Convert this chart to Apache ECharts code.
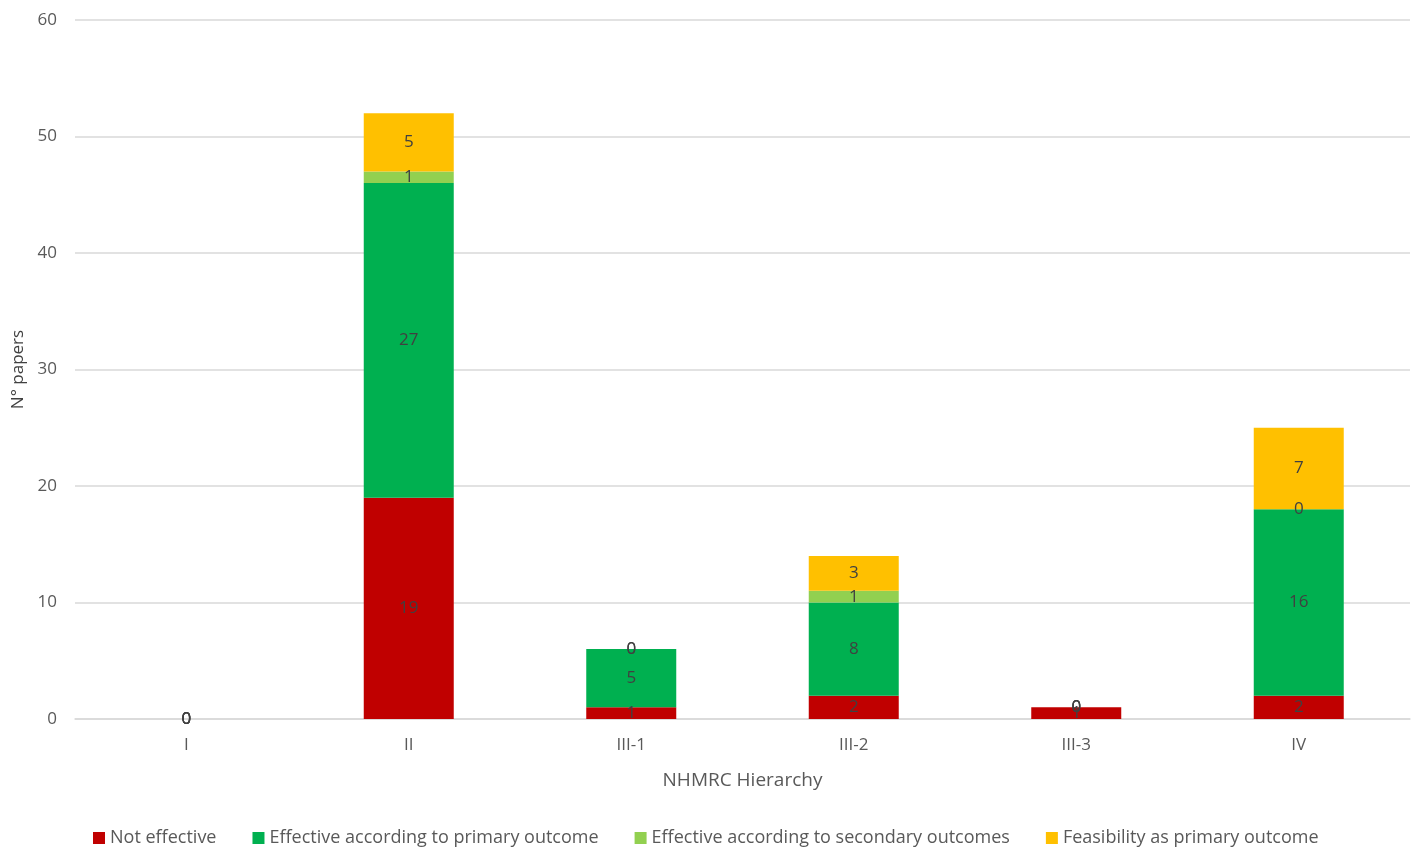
<!DOCTYPE html>
<html>
<head>
<meta charset="UTF-8">
<title>NHMRC Hierarchy</title>
<script src="https://cdn.jsdelivr.net/npm/echarts@6/dist/echarts.min.js"></script>
<style>
  body { margin: 0; background: #fff; }
  #chart { width: 1414px; height: 860px; }
</style>
</head>
<body>
<div id="chart"></div>
<script>
// categories on the x axis
var levels = ['I', 'II', 'III-1', 'III-2', 'III-3', 'IV'];

// stacked series values, bottom to top
var notEffective   = [0, 19, 1, 2, 1, 2];
var effPrimary     = [0, 27, 5, 8, 0, 16];
var effSecondary   = [0, 1, 0, 1, 0, 0];
var feasibility    = [0, 5, 0, 3, 0, 7];

var seriesNames = [
    'Not effective',
    'Effective according to primary outcome',
    'Effective according to secondary outcomes',
    'Feasibility as primary outcome'
];
var seriesColors = ['#C00000', '#00B050', '#92D050', '#FFC000'];
var seriesData = [notEffective, effPrimary, effSecondary, feasibility];

var font = '"Open Sans", "Liberation Sans", sans-serif';

var series = [];
for (var i = 0; i < seriesData.length; i++) {
    series.push({
        name: seriesNames[i],
        type: 'bar',
        stack: 'total',
        barWidth: 90,
        itemStyle: { color: seriesColors[i] },
        label: {
            show: true,
            position: 'inside',
            color: '#404040',
            fontFamily: font,
            fontSize: 17
        },
        data: seriesData[i]
    });
}

var chart = echarts.init(document.getElementById('chart'));
chart.setOption({
    animation: false,
    textStyle: { fontFamily: font },
    grid: { left: 75, right: 4, top: 20, bottom: 141, containLabel: false },
    legend: {
        bottom: 8,
        left: 88,
        icon: 'rect',
        itemWidth: 12,
        itemHeight: 12,
        itemGap: 36,
        textStyle: { color: '#595959', fontSize: 18, fontFamily: font },
        data: seriesNames
    },
    xAxis: {
        type: 'category',
        data: levels,
        name: 'NHMRC Hierarchy',
        nameLocation: 'middle',
        nameGap: 52,
        nameTextStyle: { color: '#595959', fontSize: 19, fontFamily: font },
        axisLine: { lineStyle: { color: '#d9d9d9', width: 1.5 } },
        axisTick: { show: false },
        axisLabel: { color: '#595959', fontSize: 17, margin: 18 }
    },
    yAxis: {
        type: 'value',
        min: 0,
        max: 60,
        interval: 10,
        name: 'N° papers',
        nameLocation: 'middle',
        nameGap: 48,
        nameTextStyle: { color: '#404040', fontSize: 17, fontFamily: font },
        axisLine: { show: false },
        axisTick: { show: false },
        axisLabel: { color: '#595959', fontSize: 17, margin: 18 },
        splitLine: { lineStyle: { color: '#d9d9d9', width: 1.5 } }
    },
    series: series
});
</script>
</body>
</html>
